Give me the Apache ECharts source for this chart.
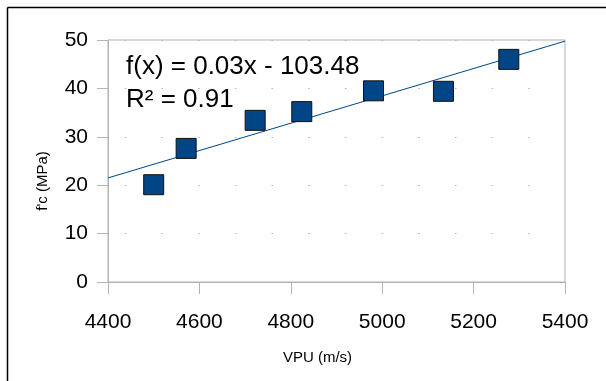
<!DOCTYPE html>
<html><head><meta charset="utf-8">
<script src="https://cdn.jsdelivr.net/npm/echarts@6/dist/echarts.min.js"></script>
<style>html,body{margin:0;padding:0;background:#fff}#c{width:606px;height:381px}</style>
</head><body><div id="c"></div>
<script>
const vpu = [4500, 4571, 4722, 4824, 4981, 5134, 5277];
const fc = [20.1, 27.6, 33.4, 35.2, 39.5, 39.4, 46.0];
const xRange = [4400, 5400];
const yRange = [0, 50];
const eqLines = ['f(x) = 0.03x - 103.48', 'R\u00B2 = 0.91'];
const xTitle = 'VPU (m/s)';
const yTitle = "f'c (MPa)";

// least-squares trend line through the measured points
const n = vpu.length;
const mx = vpu.reduce((a, b) => a + b, 0) / n;
const my = fc.reduce((a, b) => a + b, 0) / n;
let sxy = 0, sxx = 0;
for (let i = 0; i < n; i++) { sxy += (vpu[i] - mx) * (fc[i] - my); sxx += (vpu[i] - mx) ** 2; }
const slope = sxy / sxx, icpt = my - slope * mx;
const trend = xRange.map(x => [x, icpt + slope * x]);

const FONT = '"Liberation Sans", Arial, sans-serif';
const GREY = '#b3b3b3';
const chart = echarts.init(document.getElementById('c'), null, {renderer: 'canvas'});
chart.setOption({
  animation: false,
  backgroundColor: '#fff',
  grid: {left: 108, right: 41, top: 40, bottom: 99, show: true, borderColor: GREY, borderWidth: 1},
  xAxis: {
    type: 'value', min: xRange[0], max: xRange[1], interval: 200,
    name: xTitle, nameLocation: 'middle', nameGap: 68,
    nameTextStyle: {fontFamily: FONT, fontSize: 15, color: '#000', padding: [0, 38, 0, 0]},
    axisLine: {show: true, lineStyle: {color: GREY}},
    axisTick: {show: true, length: 12, lineStyle: {color: GREY}},
    axisLabel: {fontFamily: FONT, fontSize: 21, color: '#000', margin: 30, formatter: v => String(v)},
    splitLine: {show: false}
  },
  yAxis: {
    type: 'value', min: yRange[0], max: yRange[1], interval: 10,
    name: yTitle, nameLocation: 'middle', nameGap: 58, nameRotate: 90,
    nameTextStyle: {fontFamily: FONT, fontSize: 15, color: '#000', padding: [0, 40, 0, 0]},
    axisLine: {show: true, lineStyle: {color: GREY}},
    axisTick: {show: true, length: 11, lineStyle: {color: GREY}},
    axisLabel: {fontFamily: FONT, fontSize: 21, color: '#000', margin: 20},
    splitLine: {show: true, lineStyle: {color: '#b3b3b3', width: 1, type: [1.5, 35.2], dashOffset: 20}}
  },
  series: [
    {
      type: 'line', data: trend, showSymbol: false, symbol: 'none',
      lineStyle: {color: '#004586', width: 1}, z: 2, silent: true
    },
    {
      type: 'scatter', data: vpu.map((v, i) => [v, fc[i]]),
      symbol: 'rect', symbolSize: 20,
      itemStyle: {color: '#004586', borderColor: '#111', borderWidth: 1, opacity: 1}, z: 3
    }
  ],
  graphic: [
    {type: 'line', shape: {x1: 7.5, y1: 7.5, x2: 606, y2: 7.5}, style: {stroke: '#000', lineWidth: 1.5}},
    {type: 'line', shape: {x1: 7.5, y1: 7.5, x2: 7.5, y2: 381}, style: {stroke: '#000', lineWidth: 1.5}},
    {type: 'text', left: 126, top: 54, z: 10, style: {text: eqLines[0], font: '26px ' + FONT, fill: '#000'}},
    {type: 'text', left: 126, top: 87, z: 10, style: {text: eqLines[1], font: '26px ' + FONT, fill: '#000'}}
  ]
});
</script></body></html>
